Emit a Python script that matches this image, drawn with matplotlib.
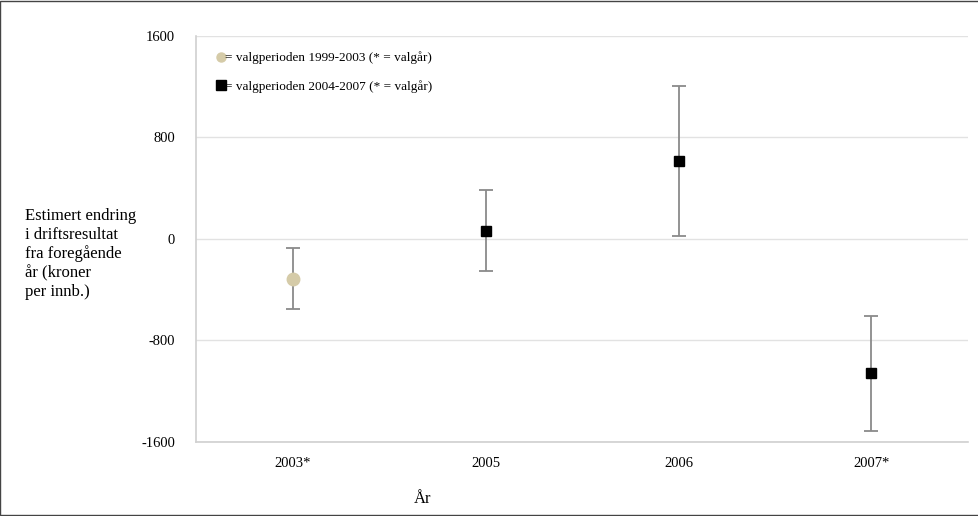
import matplotlib.pyplot as plt
from matplotlib.patches import Rectangle

plt.rcParams['font.family'] = ['Liberation Serif', 'DejaVu Serif']

# data
aar = ['2003*', '2005', '2006', '2007*']
estimat = [-315, 65, 611, -1062]
ovre = [-74, 386, 1202, -611]
nedre = [-557, -255, 20, -1513]
periode = ['1999-2003', '2004-2007', '2004-2007', '2004-2007']

fig = plt.figure(figsize=(9.79, 5.16), dpi=100)
ax = fig.add_axes([196 / 979, 1 - 441.7 / 516, 772 / 979, 405.7 / 516])

farge = {'1999-2003': '#d5cba8', '2004-2007': '#000000'}
markor = {'1999-2003': 'o', '2004-2007': 's'}

for i in range(len(aar)):
    feil = [[estimat[i] - nedre[i]], [ovre[i] - estimat[i]]]
    ax.errorbar([i], [estimat[i]], yerr=feil, fmt='none', ecolor='#8a8a8a',
                elinewidth=1.3, capsize=5, capthick=1.3, zorder=2)
    ax.plot([i], [estimat[i]], marker=markor[periode[i]], color=farge[periode[i]],
            markersize=9 if periode[i] == '1999-2003' else 7.5, linestyle='none', zorder=3)

# legend handles
h1, = ax.plot([], [], marker='o', color=farge['1999-2003'], markersize=6.5, linestyle='none')
h2, = ax.plot([], [], marker='s', color='black', markersize=6.5, linestyle='none')
ax.legend([h1, h2], ['= valgperioden 1999-2003 (* = valgår)', '= valgperioden 2004-2007 (* = valgår)'],
          loc='upper left', bbox_to_anchor=(0.02, 0.975), frameon=False, fontsize=9.5,
          handlelength=0.6, handletextpad=0.05, labelspacing=1.2, borderaxespad=0)

ax.set_xlim(-0.5, 3.5)
ax.set_ylim(-1600, 1600)
ax.set_yticks([-1600, -800, 0, 800, 1600])
ax.set_yticklabels(['-1600', '-800', '0', '800', '1600'])
ax.set_xticks(range(len(aar)))
ax.set_xticklabels(aar)
ax.tick_params(axis='y', length=0, pad=15, labelsize=10.5)
ax.tick_params(axis='x', length=0, pad=11, labelsize=10.5)
ax.grid(axis='y', color='#e2e2e2', linewidth=1)
ax.set_axisbelow(True)
for s in ['top', 'right']:
    ax.spines[s].set_visible(False)
for s in ['left', 'bottom']:
    ax.spines[s].set_color('#d0d0d0')
    ax.spines[s].set_linewidth(1.2)

fig.text(25 / 979, 1 - 254 / 516,
         'Estimert endring\ni driftsresultat\nfra foregående\når (kroner\nper innb.)',
         ha='left', va='center', fontsize=12, linespacing=1.2)
fig.text(423 / 979, 1 - 499 / 516, 'År', ha='center', va='center', fontsize=12)

fig.patches.append(Rectangle((0.0005, 0.001), 0.999, 0.998, transform=fig.transFigure,
                             fill=False, edgecolor='#444444', linewidth=1))

fig.savefig('out.png', dpi=100)
